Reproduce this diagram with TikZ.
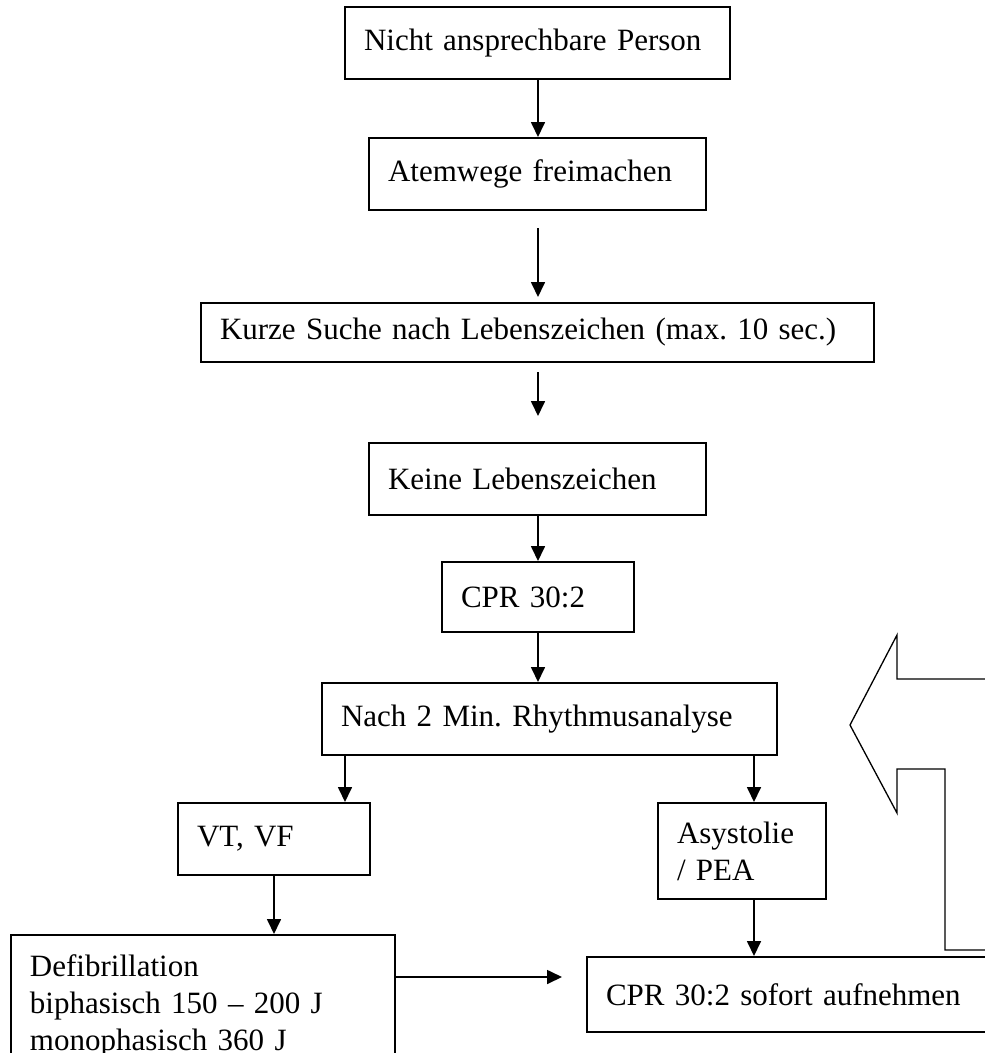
\documentclass[tikz,border=0pt]{standalone}
\usepackage{fontspec}
\setmainfont{Liberation Serif}
\usetikzlibrary{arrows.meta,calc}

\tikzset{
	kasten/.style={draw, rectangle, line width=2pt, inner xsep=19pt, inner ysep=0pt, align=left, font=\fontsize{31}{37}\selectfont},
	pfeil/.style={line width=1.7pt, -{Triangle[length=15pt,width=14pt]}}
}

\begin{document}
\frenchspacing
\hyphenpenalty=10000
\begin{tikzpicture}[x=1pt,y=-1pt]
			\path[use as bounding box, fill=white] (0,0) rectangle (985,1053);
			\clip (0,0) rectangle (985,1053);
			% nodes
			\node[kasten, text width=347pt, minimum height=72pt] (person) at (537.5,43) {Nicht ansprechbare Person};
			\node[kasten, text width=299pt, minimum height=72pt] (atem) at (537.5,174) {Atemwege freimachen};
			\node[kasten, text width=635pt, minimum height=59pt] (suche) at (537.5,332.5) {Kurze Suche nach Lebenszeichen (max. 10 sec.)};
			\node[kasten, text width=299pt, minimum height=72pt] (keine) at (537.5,479) {Keine Lebenszeichen};
			\node[kasten, text width=154pt, minimum height=70pt] (cpr) at (538,597) {CPR 30:2};
			\node[kasten, text width=417pt, minimum height=72pt] (analyse) at (549.5,719) {Nach 2 Min. Rhythmusanalyse};
			\node[kasten, text width=154pt, minimum height=72pt] (vt) at (274,839) {VT, VF};
			\node[kasten, text width=130pt, minimum height=96pt] (asy) at (742,851) {Asystolie\\/ PEA};
			\node[kasten, text width=346pt, inner ysep=20pt, anchor=north west] (defib) at (10,934) {Defibrillation\\biphasisch 150 -- 200 J\\monophasisch 360 J};
			\node[kasten, text width=386pt, minimum height=75pt, anchor=north west] (sofort) at (586,956) {CPR 30:2 sofort aufnehmen};
			% columns of the arrows
			\coordinate (mitte) at (538,0);
			\coordinate (links) at (345,0);
			\coordinate (rechts) at (754,0);
			\coordinate (quer) at (0,977);
			% arrows down the middle
			\draw[pfeil] (person.south -| mitte) -- (atem.north -| mitte);
			\draw[pfeil] ($(atem.south -| mitte)+(0,17)$) -- ($(suche.north -| mitte)+(0,-5)$);
			\draw[pfeil] ($(suche.south -| mitte)+(0,9)$) -- ($(keine.north -| mitte)+(0,-26)$);
			\draw[pfeil] (keine.south -| mitte) -- (cpr.north -| mitte);
			\draw[pfeil] (cpr.south -| mitte) -- (analyse.north -| mitte);
			% branches
			\draw[pfeil] (analyse.south -| links) -- (vt.north -| links);
			\draw[pfeil] (analyse.south -| rechts) -- (asy.north -| rechts);
			\draw[pfeil] (vt.south) -- (defib.north -| vt.south);
			\draw[pfeil] (asy.south -| rechts) -- (sofort.north -| rechts);
			\draw[pfeil] (defib.east |- quer) -- ($(sofort.west |- quer)+(-24,0)$);
			% big arrow back to the analysis
			\draw[line width=1.3pt] (990,679) -- (897,679) -- (897,635) -- (850,725) -- (897,813) -- (897,769) -- (945,769) -- (945,950) -- (990,950);
\end{tikzpicture}
\end{document}
